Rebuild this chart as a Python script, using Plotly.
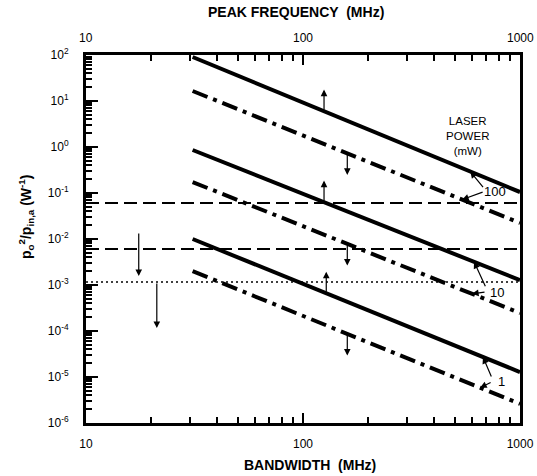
import numpy as np
import plotly.graph_objects as go

# ---------------- data ----------------
BW_ENDS = [31, 1000]                      # bandwidth (MHz) span of the sloped curves
SOLID_100 = [90.5, 0.105]
DASHDOT_100 = [16.5, 0.0223]
SOLID_10 = [0.86, 0.00128]
DASHDOT_10 = [0.173, 2.46e-4]
SOLID_1 = [0.010, 1.28e-5]
DASHDOT_1 = [2.0e-3, 2.6e-6]
HLINE_X = [10, 1000]
DASHED_LEVELS = [0.0607, 0.00607]
DOTTED_LEVEL = 0.00116

UP_ARROW_BW = [125, 125, 128]            # on solid curves (100, 10, 1 mW)
DOWN_ARROW_BW = [160, 160, 160]          # on dash-dot curves
ARROW_DECADES = 0.47                     # length of the short direction arrows (in decades)
LEFT_ARROW_1 = dict(bw=17.5, y_from=0.0142, y_to=0.00157)
LEFT_ARROW_2 = dict(bw=21.2, y_from=DOTTED_LEVEL, y_to=1.16e-4)

POWER_LABELS = ["100", "10", "1"]
LABEL_SOLID_BW = [590, 614, 675]
LABEL_DASHDOT_BW = [541, 601, 655]

X_TICKS = [10, 100, 1000]
X_TICKTEXT = ["10", "100", "1000"]
TOP_TICKS = [10, 100, 1000]              # peak frequency (MHz)
TOP_TICKTEXT = ["10", "100", "1000"]
X_MINOR = [20, 30, 40, 50, 60, 70, 80, 90, 200, 300, 400, 500, 600, 700, 800, 900]
Y_TICKS = [1e2, 1e1, 1e0, 1e-1, 1e-2, 1e-3, 1e-4, 1e-5, 1e-6]
Y_TICKTEXT = ["10<sup>2</sup>", "10<sup>1</sup>", "10<sup>0</sup>", "10<sup>-1</sup>",
              "10<sup>-2</sup>", "10<sup>-3</sup>", "10<sup>-4</sup>", "10<sup>-5</sup>",
              "10<sup>-6</sup>"]
Y_MINOR = [m * 10.0 ** e for e in range(-6, 2) for m in range(2, 10)]


def line_val(ends, bw):
    lx = np.log10(BW_ENDS)
    ly = np.log10(ends)
    return 10 ** np.interp(np.log10(bw), lx, ly)


FONT = "Liberation Sans, Arial, sans-serif"
fig = go.Figure()

DD = "16px,6px,4px,6px"
for ends, dash in [(SOLID_100, "solid"), (DASHDOT_100, DD), (SOLID_10, "solid"),
                   (DASHDOT_10, DD), (SOLID_1, "solid"), (DASHDOT_1, DD)]:
    fig.add_trace(go.Scatter(x=BW_ENDS, y=ends, mode="lines",
                             line=dict(color="black", width=4, dash=dash),
                             showlegend=False, hoverinfo="skip"))

for lev in DASHED_LEVELS:
    fig.add_trace(go.Scatter(x=HLINE_X, y=[lev, lev], mode="lines",
                             line=dict(color="black", width=2, dash="13px,6px"),
                             showlegend=False, hoverinfo="skip"))
fig.add_trace(go.Scatter(x=HLINE_X, y=[DOTTED_LEVEL, DOTTED_LEVEL], mode="lines",
                         line=dict(color="black", width=1.5, dash="2px,3px"),
                         showlegend=False, hoverinfo="skip"))

ann = []
arrow_common = dict(showarrow=True, arrowcolor="black", arrowwidth=1.2,
                    arrowhead=2, arrowsize=1.1, text="", xref="x", yref="y")
solids = [SOLID_100, SOLID_10, SOLID_1]
dashdots = [DASHDOT_100, DASHDOT_10, DASHDOT_1]
for bw, ends in zip(UP_ARROW_BW, solids):
    ly = np.log10(line_val(ends, bw))
    ann.append(dict(x=np.log10(bw), y=ly + ARROW_DECADES, axref="x", ayref="y",
                    ax=np.log10(bw), ay=ly, **arrow_common))
for bw, ends in zip(DOWN_ARROW_BW, dashdots):
    ly = np.log10(line_val(ends, bw))
    ann.append(dict(x=np.log10(bw), y=ly - ARROW_DECADES, axref="x", ayref="y",
                    ax=np.log10(bw), ay=ly, **arrow_common))
for la in (LEFT_ARROW_1, LEFT_ARROW_2):
    ann.append(dict(x=np.log10(la["bw"]), y=np.log10(la["y_to"]),
                    axref="x", ayref="y",
                    ax=np.log10(la["bw"]), ay=np.log10(la["y_from"]), **arrow_common))

# power labels with pointer arrows
solid_tail = [(14, 17), (12, 26), (9, 21)]
dd_tail = [(22, -8), (14, -2), (12, -6)]
label_pos = [(0.942, 0.628), (0.947, 0.354), (0.958, 0.112)]
for i in range(3):
    ys = line_val(solids[i], LABEL_SOLID_BW[i])
    yd = line_val(dashdots[i], LABEL_DASHDOT_BW[i])
    ann.append(dict(x=np.log10(LABEL_SOLID_BW[i]), y=np.log10(ys),
                    ax=solid_tail[i][0], ay=solid_tail[i][1], **arrow_common))
    ann.append(dict(x=np.log10(LABEL_DASHDOT_BW[i]), y=np.log10(yd),
                    ax=dd_tail[i][0], ay=dd_tail[i][1], **arrow_common))
    ann.append(dict(x=label_pos[i][0], y=label_pos[i][1], xref="paper", yref="paper",
                    xanchor="center", yanchor="middle",
                    text=POWER_LABELS[i], showarrow=False,
                    font=dict(family=FONT, size=13, color="black")))

ann.append(dict(x=0.880, y=0.780, xref="paper", yref="paper",
                xanchor="center", yanchor="middle",
                text="LASER<br>POWER<br>(mW)", showarrow=False, align="center",
                font=dict(family=FONT, size=11.5, color="black")))

# top (peak frequency) scale labels
for v, t in zip(TOP_TICKS, TOP_TICKTEXT):
    ann.append(dict(x=np.log10(v), y=1.047, xref="x", yref="paper",
                    xanchor="center", yanchor="middle", text=t, showarrow=False,
                    font=dict(family=FONT, size=12, color="black")))

# axis titles
ann.append(dict(x=-0.138, y=0.56, xref="paper", yref="paper", textangle=-90,
                xanchor="center", yanchor="middle",
                text="<b>p<sub>o</sub><sup>2</sup>/p<sub>in,a</sub> (W<sup>-1</sup>)</b>",
                showarrow=False, font=dict(family=FONT, size=14, color="black")))
ann.append(dict(x=0.516, y=-0.115, xref="paper", yref="paper",
                xanchor="center", yanchor="middle",
                text="<b>BANDWIDTH  (MHz)</b>", showarrow=False,
                font=dict(family=FONT, size=14, color="black")))
ann.append(dict(x=0.484, y=1.116, xref="paper", yref="paper",
                xanchor="center", yanchor="middle",
                text="<b>PEAK FREQUENCY  (MHz)</b>", showarrow=False,
                font=dict(family=FONT, size=14, color="black")))

fig.update_layout(
    width=537, height=476,
    margin=dict(l=86, r=17, t=55, b=53, autoexpand=False),
    plot_bgcolor="white", paper_bgcolor="white",
    font=dict(family=FONT, size=12, color="black"),
    annotations=ann,
    xaxis=dict(type="log", range=[1, 3], tickvals=X_TICKS, ticktext=X_TICKTEXT,
               ticks="inside", ticklen=10, tickwidth=2, tickcolor="black",
               showline=True, linewidth=3, linecolor="black", mirror="ticks",
               showgrid=False, zeroline=False, ticklabelstandoff=8, automargin=False,
               minor=dict(tickmode="array", tickvals=X_MINOR, ticks="inside",
                          ticklen=6, tickwidth=2, tickcolor="black", showgrid=False)),
    yaxis=dict(type="log", range=[-6, 2], tickvals=Y_TICKS, ticktext=Y_TICKTEXT,
               ticks="inside", ticklen=12, tickwidth=2, tickcolor="black",
               showline=True, linewidth=3, linecolor="black", mirror=True,
               showgrid=False, zeroline=False, ticklabelstandoff=12, automargin=False,
               minor=dict(tickmode="array", tickvals=Y_MINOR, ticks="inside",
                          ticklen=6, tickwidth=2, tickcolor="black", showgrid=False)),
)

fig.write_html("out.html")
